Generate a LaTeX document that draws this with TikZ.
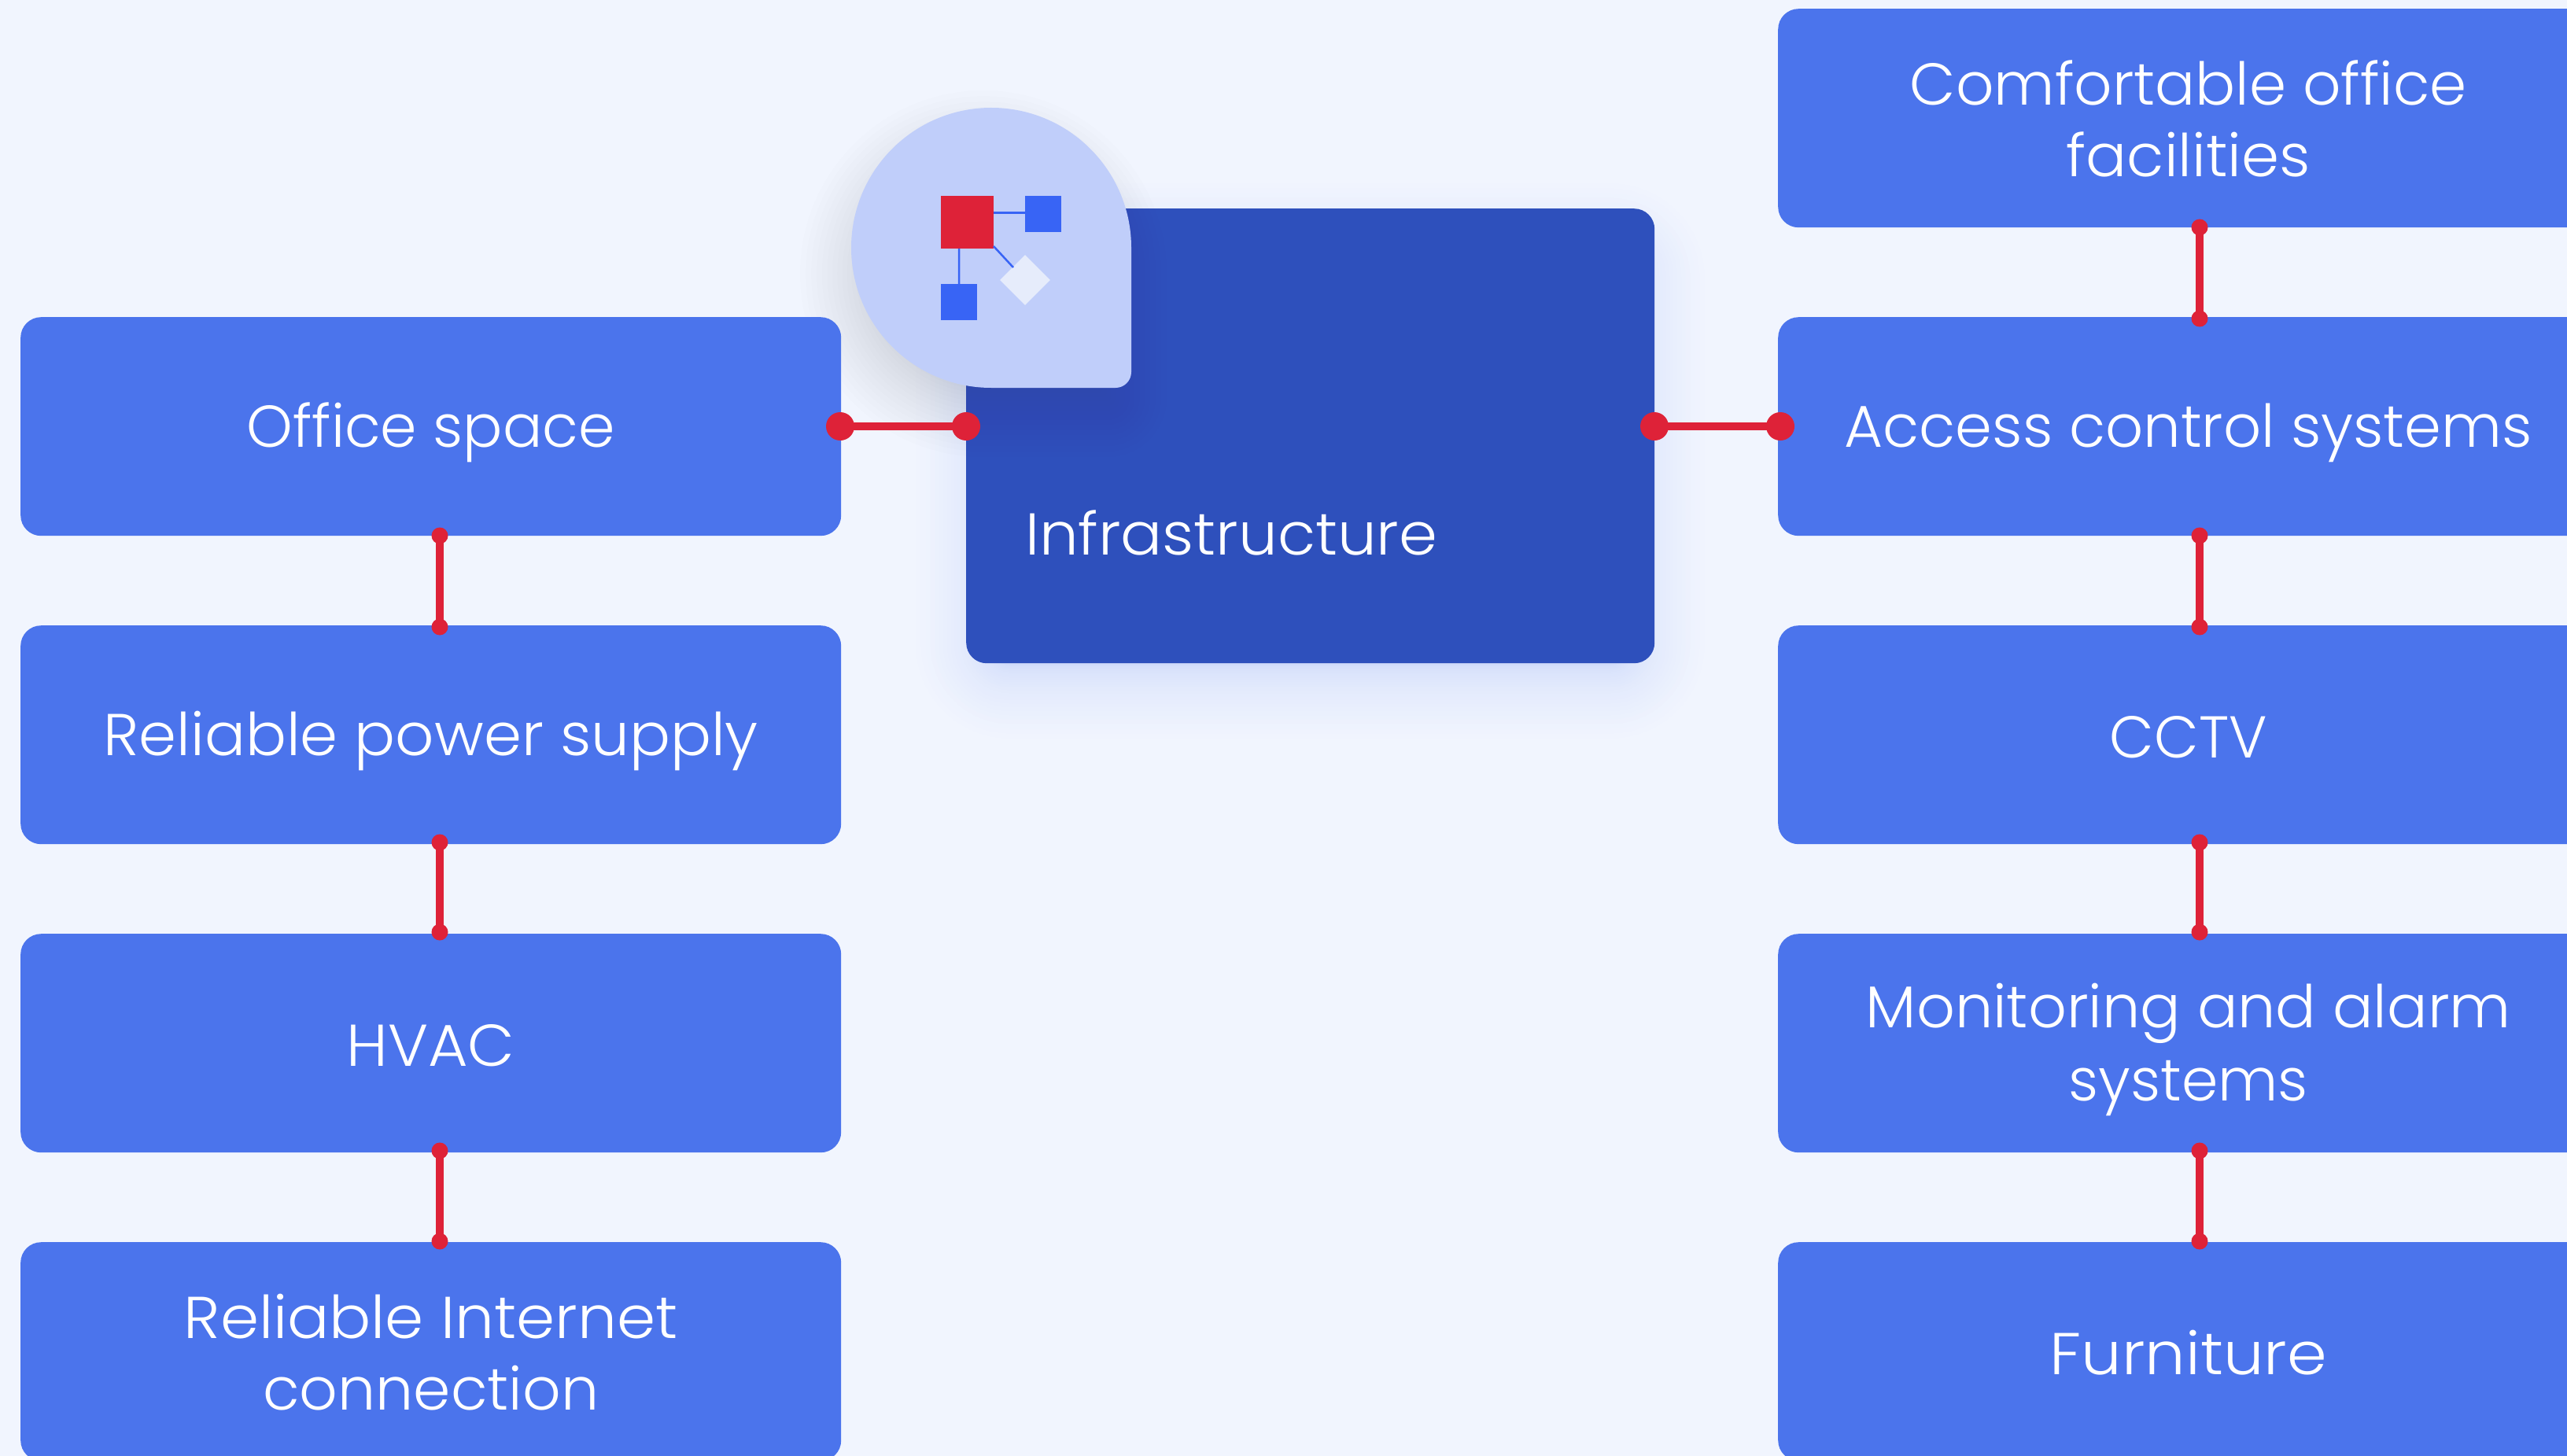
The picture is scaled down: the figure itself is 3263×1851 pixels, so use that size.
\documentclass[tikz,border=0pt]{standalone}
\usepackage{fontspec}
\usepackage{graphicx}
\usetikzlibrary{shapes.geometric}
\setmainfont{Poppins Light}
\definecolor{pagebg}{HTML}{F1F5FE}
\definecolor{boxblue}{HTML}{4B74EC}
\definecolor{hubblue}{HTML}{2E50BC}
\definecolor{dropblue}{HTML}{C0CEFA}
\definecolor{linkred}{HTML}{DE2238}
\definecolor{iconblue}{HTML}{3864F5}
\definecolor{iconpale}{HTML}{E6ECFB}
\definecolor{dropshade}{HTML}{484848}
% one line of label: fixed strut, stretched to the width it has in the picture
\newcommand{\lbl}[2]{\rule[-14pt]{0pt}{86pt}\resizebox{#1pt}{\height}{#2}}
\tikzset{
  x=1pt,y=-1pt,
  itembox/.style={fill=boxblue,text=white,rounded corners=26pt,minimum width=1043pt,minimum height=278pt,inner sep=0pt,align=center,font=\fontsize{75}{91}\selectfont,anchor=north west},
  bigdot/.style={circle,fill=linkred,minimum size=36pt,inner sep=0pt},
  smalldot/.style={circle,fill=linkred,minimum size=21pt,inner sep=0pt},
  redlink/.style={draw=linkred,line width=10.5pt},
  iconlink/.style={draw=iconblue,line width=2.5pt},
}
\begin{document}
\begin{tikzpicture}
\useasboundingbox (0,0) rectangle (3263,1851);
\clip (0,0) rectangle (3263,1851);
\fill[pagebg] (0,0) rectangle (3263,1851);
% hub shadow: opaque bands, outermost first
\foreach \t in {30,29,...,0}{
  \pgfmathsetmacro{\g}{-30+100*(\t/30)^2}
  \pgfmathsetmacro{\rr}{max(26,56+\g)}
  \pgfmathsetmacro{\mix}{20*(1-\t/30)}
  \fill[boxblue!\mix!pagebg,rounded corners=\rr pt] (1228-\g,265+32-\g) rectangle (2103+\g,843+32+\g);
}
% hub
\node[fill=hubblue,rounded corners=26pt,minimum width=875pt,minimum height=578pt,inner sep=0pt,anchor=north west] (hub) at (1228,265) {};
\node[text=white,font=\fontsize{75}{91}\selectfont,anchor=base west,inner sep=0pt] (hubtext) at (1303,705) {\resizebox{524pt}{\height}{Infrastructure}};
% drop shadow
\foreach \t in {0,...,19}{
  \pgfmathsetmacro{\g}{-50+105*(\t/19)^1.3}
  \pgfmathsetmacro{\R}{178+\g}
  \pgfmathsetmacro{\cc}{max(6,20+\g)}
  \pgfmathsetmacro{\cxx}{1250}
  \pgfmathsetmacro{\cyy}{348}
  \fill[dropshade,opacity=0.009] (\cxx+\R,\cyy) arc[start angle=0,end angle=-270,radius=\R] -- (\cxx+\R-\cc,\cyy+\R) arc[start angle=90,end angle=0,radius=\cc] -- cycle;
}
% left column
\node[itembox] (l1) at (26,403) {\lbl{468}{Office space}};
\node[itembox] (l2) at (26,795) {\lbl{832}{Reliable power supply}};
\node[itembox] (l3) at (26,1187) {\lbl{214}{HVAC}};
\node[itembox] (l4) at (26,1579) {\lbl{628}{Reliable Internet}\\\lbl{427}{connection}};
% right column
\node[itembox] (r0) at (2260,11) {\lbl{708}{Comfortable office}\\\lbl{310}{facilities}};
\node[itembox] (r1) at (2260,403) {\lbl{874}{Access control systems}};
\node[itembox] (r2) at (2260,795) {\lbl{200}{CCTV}};
\node[itembox] (r3) at (2260,1187) {\lbl{820}{Monitoring and alarm}\\\lbl{304}{systems}};
\node[itembox] (r4) at (2260,1579) {\lbl{352}{Furniture}};
% connectors
\foreach \n/\px/\py in {a/1068/542,b/1228/542,c/2103/542,d/2263/542}{
  \node[bigdot] (\n) at (\px,\py) {};
}
\draw[redlink] (a.center) -- (b.center);
\draw[redlink] (c.center) -- (d.center);
\foreach \n/\px/\ya/\yb in {e/559/681/797,f/559/1071/1185,g/559/1463/1578,h/2796/289/405,i/2796/681/797,j/2796/1071/1185,k/2796/1463/1578}{
  \node[smalldot] (\n1) at (\px,\ya) {};
  \node[smalldot] (\n2) at (\px,\yb) {};
  \draw[redlink] (\n1.center) -- (\n2.center);
}
% teardrop
\fill[dropblue] (1438,315) arc[start angle=0,end angle=-270,radius=178] -- (1418,493) arc[start angle=90,end angle=0,radius=20] -- cycle;
% icon
\node[fill=iconblue,minimum size=46pt,inner sep=0pt,anchor=north west] (ib1) at (1303,249) {};
\node[fill=iconblue,minimum size=46pt,inner sep=0pt,anchor=north west] (ib2) at (1196,361) {};
\node[fill=linkred,minimum size=67pt,inner sep=0pt,anchor=north west] (ired) at (1196,249) {};
\node[fill=iconpale,diamond,minimum size=64pt,inner sep=0pt,shape aspect=1] (idia) at (1303,356) {};
\draw[iconlink] (1263,270.5) -- (1303,270.5);
\draw[iconlink] (1219,316) -- (ib2.north);
\draw[iconlink] (1263,313) -- (1288,340);
\end{tikzpicture}
\end{document}
